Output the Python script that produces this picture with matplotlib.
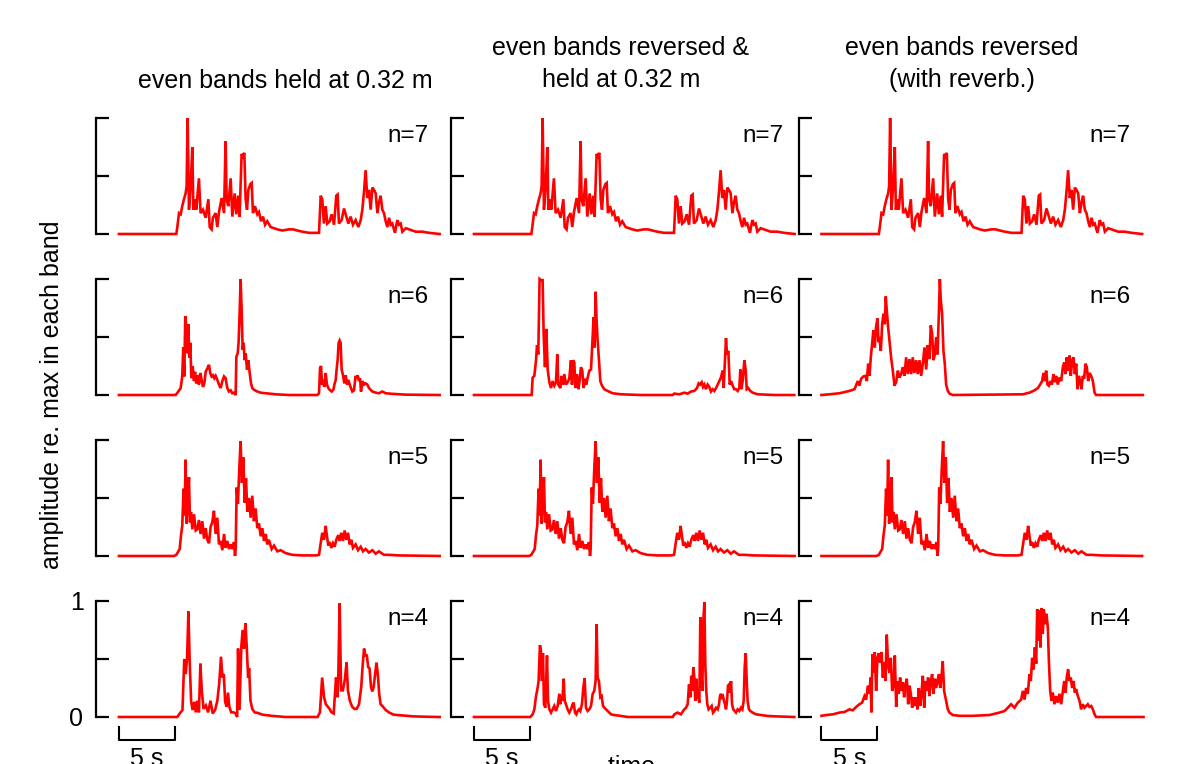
import numpy as np
import matplotlib.pyplot as plt

plt.rcParams['font.family'] = ['Liberation Sans', 'DejaVu Sans']

# traces: (time in s, amplitude re. max)
# odd bands (n=7, n=5) are the same in all three conditions
band7 = [
    (0, 0), (5.12, 0), (5.21, .06), (5.36, .18), (5.51, .17), (5.65, .24), (5.80, .30), (5.95, .35),
    (6.04, .41), (6.13, 1.0), (6.25, .21), (6.40, .41), (6.55, .75), (6.64, .21), (6.79, .30), (6.90, .21),
    (7.14, .48), (7.29, .18), (7.50, .21), (7.74, .14), (7.98, .30), (8.10, .06), (8.27, .04), (8.39, .14),
    (8.63, .18), (8.78, .06), (8.93, .19), (9.17, .31), (9.38, .18), (9.52, .80), (9.61, .30), (9.76, .24),
    (9.97, .48), (10.12, .15), (10.33, .35), (10.48, .17), (10.65, .33), (10.77, .15), (10.95, .69),
    (11.07, .67), (11.19, .70), (11.31, .30), (11.43, .21), (11.55, .38), (11.73, .43), (11.85, .44),
    (11.96, .18), (12.14, .24), (12.35, .17), (12.50, .19), (12.68, .11), (12.86, .15), (13.04, .08),
    (13.24, .11), (13.54, .06), (13.84, .05), (14.14, .04), (14.58, .03), (15.18, .04), (15.54, .04),
    (15.92, .03), (16.37, .02), (16.96, .01), (17.86, .01), (18.01, .33), (18.15, .30), (18.30, .09),
    (18.45, .24), (18.60, .09), (18.81, .11), (18.99, .17), (19.20, .08), (19.40, .33), (19.52, .34),
    (19.64, .09), (19.88, .12), (20.09, .22), (20.24, .17), (20.48, .09), (20.68, .15), (20.89, .08),
    (21.13, .12), (21.37, .06), (21.58, .12), (21.73, .21), (21.88, .37), (22.02, .55), (22.17, .31),
    (22.32, .38), (22.47, .21), (22.62, .40), (22.77, .38), (22.92, .35), (23.07, .18), (23.21, .27),
    (23.36, .33), (23.51, .21), (23.66, .18), (23.81, .11), (23.96, .06), (24.11, .14), (24.26, .08),
    (24.40, .09), (24.64, .01), (24.85, .12), (25.00, .08), (25.15, .09), (25.30, .02), (25.60, .05),
    (25.89, .04), (26.49, .02), (27.08, .02), (27.68, .01), (28.63, 0)]

band5 = [
    (0, 0), (4.91, 0), (5.12, .01), (5.30, .04), (5.42, .06), (5.54, .18), (5.65, .26), (5.77, .58),
    (5.86, .35), (5.95, .83), (6.04, .28), (6.13, .45), (6.25, .68), (6.34, .29), (6.43, .38), (6.55, .23),
    (6.70, .36), (6.85, .22), (6.99, .23), (7.14, .31), (7.29, .19), (7.44, .30), (7.59, .15), (7.74, .24),
    (7.89, .14), (8.04, .11), (8.18, .25), (8.33, .29), (8.48, .39), (8.63, .19), (8.78, .33), (8.93, .10),
    (9.08, .13), (9.23, .05), (9.38, .19), (9.52, .07), (9.67, .13), (9.82, .06), (9.97, .10), (10.12, .06),
    (10.27, .12), (10.36, 0), (10.42, .06), (10.51, .59), (10.62, .45), (10.74, .75), (10.86, .99),
    (10.98, .63), (11.10, .85), (11.22, .46), (11.34, .67), (11.46, .38), (11.61, .50), (11.76, .33),
    (11.90, .52), (12.05, .30), (12.20, .41), (12.35, .24), (12.50, .28), (12.65, .17), (12.80, .24),
    (12.95, .13), (13.10, .19), (13.24, .10), (13.39, .14), (13.63, .06), (13.84, .09), (14.14, .04),
    (14.43, .05), (14.88, .025), (15.48, .01), (16.37, .005), (17.56, .005), (17.86, .01), (18.01, .11),
    (18.15, .20), (18.30, .14), (18.45, .26), (18.57, .17), (18.69, .09), (18.81, .12), (18.96, .07),
    (19.11, .11), (19.26, .08), (19.40, .14), (19.58, .18), (19.70, .13), (19.85, .20), (20.00, .13),
    (20.15, .22), (20.30, .14), (20.45, .20), (20.60, .10), (20.74, .14), (20.89, .07), (21.13, .10),
    (21.34, .05), (21.58, .08), (21.79, .04), (22.02, .06), (22.32, .03), (22.62, .05), (22.92, .02),
    (23.21, .04), (23.66, .01), (24.11, .01), (25.00, .005), (28.63, 0)]

band6_held = [
    (0, 0), (5.06, 0), (5.30, .03), (5.51, .06), (5.65, .16), (5.74, .41), (5.83, .16), (5.92, .68),
    (6.01, .59), (6.10, .36), (6.19, .61), (6.28, .32), (6.37, .45), (6.46, .145), (6.58, .25), (6.70, .12),
    (6.79, .20), (6.90, .10), (7.02, .17), (7.14, .09), (7.26, .19), (7.38, .13), (7.50, .07), (7.62, .10),
    (7.74, .20), (7.89, .23), (8.04, .26), (8.15, .19), (8.27, .16), (8.39, .17), (8.51, .145), (8.63, .165),
    (8.78, .13), (8.93, .09), (9.08, .06), (9.23, .12), (9.38, .16), (9.52, .145), (9.67, .06), (9.82, .03),
    (9.97, .04), (10.12, .015), (10.27, .02), (10.42, 0), (10.48, .33), (10.60, .36), (10.68, .45),
    (10.77, .70), (10.86, 1.0), (10.95, .74), (11.04, .39), (11.13, .45), (11.22, .30), (11.31, .36),
    (11.43, .22), (11.55, .30), (11.67, .19), (11.79, .10), (11.90, .06), (12.05, .045), (12.35, .03),
    (12.65, .02), (13.10, .015), (13.99, .006), (15.18, 0), (17.71, 0), (17.86, .015), (17.95, .23),
    (18.04, .25), (18.13, .09), (18.21, .13), (18.33, .07), (18.45, .19), (18.57, .09), (18.69, .06),
    (18.81, .045), (18.99, .03), (19.14, .045), (19.26, .10), (19.35, .13), (19.43, .22), (19.52, .30),
    (19.61, .45), (19.70, .47), (19.79, .45), (19.88, .22), (20.00, .17), (20.12, .10), (20.24, .17),
    (20.36, .09), (20.48, .13), (20.60, .09), (20.71, .06), (20.83, .03), (20.98, .04), (21.13, .165),
    (21.22, .145), (21.31, .17), (21.43, .12), (21.52, .145), (21.61, .03), (21.73, .12), (21.88, .09),
    (22.02, .10), (22.17, .09), (22.32, .06), (22.47, .045), (22.62, .03), (22.92, .02), (23.21, .015),
    (23.51, .03), (23.81, .015), (24.40, .01), (25.60, .003), (28.63, 0)]

band6_rev_held = [
    (0, 0), (5.15, 0), (5.24, .15), (5.39, .165), (5.54, .30), (5.63, .43), (5.74, .35), (5.86, 1.0),
    (5.98, .99), (6.13, .99), (6.22, .53), (6.34, .24), (6.46, .57), (6.58, .22), (6.73, .11), (6.88, .06),
    (7.02, .12), (7.17, .08), (7.32, .11), (7.44, .35), (7.53, .09), (7.71, .06), (7.83, .165), (7.95, .09),
    (8.07, .18), (8.21, .09), (8.36, .11), (8.51, .14), (8.66, .30), (8.75, .09), (8.84, .30), (8.96, .28),
    (9.05, .06), (9.20, .18), (9.32, .05), (9.43, .12), (9.55, .24), (9.67, .21), (9.79, .06), (9.91, .14),
    (10.03, .09), (10.15, .15), (10.30, .21), (10.45, .22), (10.60, .51), (10.68, .67), (10.77, .41),
    (10.86, .89), (10.95, .64), (11.04, .47), (11.16, .30), (11.28, .12), (11.43, .08), (11.64, .05),
    (11.93, .035), (12.38, .015), (13.13, .006), (14.91, 0), (17.74, 0), (17.89, .012), (18.33, .006),
    (18.78, .02), (19.08, .012), (19.38, .03), (19.67, .035), (19.91, .06), (20.06, .10), (20.18, .09),
    (20.33, .11), (20.45, .07), (20.57, .09), (20.71, .05), (20.86, .09), (21.01, .07), (21.16, .03),
    (21.31, .05), (21.46, .035), (21.61, .06), (21.76, .09), (21.90, .12), (22.05, .15), (22.20, .21),
    (22.29, .06), (22.41, .30), (22.50, .49), (22.59, .35), (22.71, .38), (22.83, .09), (22.95, .12),
    (23.10, .08), (23.24, .05), (23.39, .05), (23.54, .035), (23.69, .06), (23.78, .22), (23.87, .05),
    (23.99, .12), (24.14, .30), (24.26, .21), (24.35, .05), (24.49, .06), (24.67, .035), (24.88, .02),
    (25.33, .006), (26.82, 0), (28.6, 0)]

band6_rev_reverb = [
    (0, 0), (0.71, .006), (1.61, .015), (2.50, .035), (2.95, .05), (3.24, .12), (3.39, .08), (3.54, .14),
    (3.75, .16), (3.93, .165), (4.05, .12), (4.17, .27), (4.29, .165), (4.40, .32), (4.52, .44), (4.64, .56),
    (4.76, .41), (4.88, .59), (5.00, .66), (5.09, .455), (5.18, .50), (5.30, .38), (5.42, .61), (5.54, .70),
    (5.65, .61), (5.74, .85), (5.83, .73), (5.95, .585), (6.07, .47), (6.22, .32), (6.37, .21), (6.52, .08),
    (6.67, .11), (6.82, .21), (6.96, .15), (7.11, .18), (7.26, .24), (7.41, .165), (7.56, .325), (7.71, .18),
    (7.86, .31), (8.01, .18), (8.15, .325), (8.30, .19), (8.45, .30), (8.60, .18), (8.75, .30), (8.90, .165),
    (9.05, .27), (9.20, .41), (9.35, .22), (9.49, .43), (9.64, .31), (9.76, .60), (9.88, .53), (10.00, .30),
    (10.12, .35), (10.24, .50), (10.36, .35), (10.48, .70), (10.57, 1.0), (10.65, .82), (10.77, .70),
    (10.89, .38), (11.01, .27), (11.13, .09), (11.28, .035), (11.43, .012), (11.73, 0), (17.98, .006),
    (18.57, .02), (19.02, .04), (19.32, .06), (19.52, .09), (19.70, .12), (19.82, .19), (19.94, .12),
    (20.06, .21), (20.18, .09), (20.30, .08), (20.45, .12), (20.57, .09), (20.71, .18), (20.83, .11),
    (20.95, .165), (21.10, .09), (21.25, .15), (21.40, .12), (21.55, .24), (21.67, .28), (21.79, .18),
    (21.90, .325), (22.02, .21), (22.14, .34), (22.26, .165), (22.38, .30), (22.50, .325), (22.62, .18),
    (22.74, .27), (22.86, .05), (22.98, .165), (23.10, .12), (23.21, .05), (23.33, .165), (23.45, .14),
    (23.57, .27), (23.69, .24), (23.81, .12), (23.93, .19), (24.08, .165), (24.23, .12), (24.38, .02),
    (24.52, 0), (28.69, 0)]

band4_held = [
    (0, 0), (5.21, 0), (5.42, .03), (5.67, .06), (5.83, .50), (5.95, .37), (6.08, .50), (6.20, .91),
    (6.32, .46), (6.44, .14), (6.57, .06), (6.73, .13), (6.86, .04), (6.98, .14), (7.14, .04), (7.27, .46),
    (7.39, .23), (7.55, .07), (7.76, .10), (7.96, .04), (8.17, .14), (8.37, .03), (8.58, .06), (8.78, .14),
    (8.95, .29), (9.11, .52), (9.24, .34), (9.36, .37), (9.48, .13), (9.61, .09), (9.73, .21), (9.85, .09),
    (10.02, .04), (10.22, .04), (10.43, .03), (10.55, 0), (10.63, .59), (10.76, .06), (10.92, .60),
    (11.04, .75), (11.17, .59), (11.29, .81), (11.41, .60), (11.53, .34), (11.62, .42), (11.74, .14),
    (11.90, .07), (12.11, .04), (12.40, .035), (12.81, .02), (13.63, .01), (14.86, 0), (17.73, 0),
    (17.94, .04), (18.14, .34), (18.31, .17), (18.47, .11), (18.64, .09), (18.80, .07), (18.97, .04),
    (19.17, .03), (19.38, .34), (19.50, .17), (19.58, .34), (19.70, .98), (19.83, .23), (19.99, .23),
    (20.16, .32), (20.32, .47), (20.44, .23), (20.61, .14), (20.81, .09), (21.02, .07), (21.22, .07),
    (21.43, .11), (21.63, .26), (21.76, .45), (21.88, .59), (22.00, .53), (22.13, .53), (22.25, .43),
    (22.37, .42), (22.50, .26), (22.62, .22), (22.74, .26), (22.87, .37), (22.99, .47), (23.11, .37),
    (23.23, .20), (23.36, .11), (23.56, .09), (23.81, .06), (24.10, .04), (24.51, .02), (25.12, .015),
    (26.35, .005), (28.4, 0), (28.63, 0)]

band4_rev_held = [
    (0, 0), (5.03, 0), (5.24, .023), (5.39, .066), (5.54, .18), (5.68, .25), (5.77, .31), (5.89, .62),
    (5.98, .57), (6.07, .31), (6.16, .55), (6.25, .11), (6.37, .08), (6.52, .53), (6.61, .14), (6.73, .066),
    (6.88, .038), (7.02, .066), (7.17, .095), (7.32, .052), (7.47, .095), (7.62, .20), (7.71, .11),
    (7.80, .18), (7.89, .14), (8.01, .33), (8.10, .14), (8.21, .11), (8.36, .066), (8.51, .038), (8.66, .066),
    (8.81, .11), (8.90, .124), (9.02, .038), (9.14, .023), (9.26, .052), (9.38, .066), (9.49, .052),
    (9.64, .11), (9.76, .25), (9.88, .335), (10.00, .08), (10.15, .052), (10.30, .066), (10.45, .095),
    (10.60, .20), (10.74, .225), (10.86, .31), (10.95, .80), (11.04, .34), (11.16, .31), (11.28, .17),
    (11.40, .18), (11.52, .095), (11.64, .08), (11.79, .066), (11.93, .052), (12.08, .038), (12.23, .023),
    (12.53, .017), (13.13, .009), (13.72, 0), (17.74, 0), (17.89, .023), (18.18, .038), (18.48, .023),
    (18.63, .046), (18.78, .066), (18.93, .08), (19.08, .11), (19.20, .28), (19.32, .17), (19.40, .355),
    (19.49, .225), (19.58, .43), (19.67, .34), (19.76, .14), (19.85, .33), (19.94, .17), (20.03, .17),
    (20.12, .124), (20.21, .86), (20.30, .37), (20.39, .225), (20.48, .83), (20.57, .99), (20.65, .46),
    (20.74, .225), (20.83, .11), (20.95, .066), (21.10, .08), (21.22, .095), (21.34, .038), (21.46, .052),
    (21.61, .08), (21.76, .066), (21.88, .11), (21.96, .18), (22.05, .20), (22.14, .17), (22.23, .18),
    (22.32, .14), (22.41, .11), (22.50, .066), (22.59, .14), (22.68, .27), (22.77, .28), (22.86, .21),
    (22.95, .31), (23.04, .11), (23.15, .066), (23.27, .052), (23.39, .038), (23.54, .066), (23.69, .052),
    (23.84, .08), (23.96, .066), (24.08, .14), (24.17, .43), (24.26, .55), (24.35, .31), (24.43, .14),
    (24.55, .066), (24.67, .052), (24.88, .038), (25.18, .023), (25.63, .017), (26.22, .009),
    (26.82, .006), (28.6, 0)]

band4_rev_reverb = [
    (0, .01), (0.42, .017), (1.01, .023), (1.61, .038), (2.05, .043), (2.50, .066), (2.80, .058),
    (3.10, .087), (3.39, .11), (3.63, .124), (3.84, .18), (3.99, .15), (4.14, .27), (4.29, .20), (4.38, .34),
    (4.46, .04), (4.55, .54), (4.64, .38), (4.76, .56), (4.88, .225), (5.00, .51), (5.12, .55), (5.24, .47),
    (5.36, .56), (5.48, .34), (5.60, .47), (5.71, .31), (5.83, .71), (5.95, .44), (6.07, .38), (6.19, .51),
    (6.31, .225), (6.43, .27), (6.55, .53), (6.67, .087), (6.79, .31), (6.90, .20), (7.02, .34), (7.14, .225),
    (7.26, .30), (7.38, .17), (7.50, .28), (7.62, .33), (7.74, .11), (7.86, .27), (7.98, .20), (8.10, .08),
    (8.21, .17), (8.33, .095), (8.45, .17), (8.57, .066), (8.69, .25), (8.81, .095), (8.93, .20),
    (9.05, .355), (9.17, .08), (9.29, .31), (9.40, .225), (9.52, .34), (9.64, .18), (9.76, .31), (9.88, .37),
    (10.00, .20), (10.12, .33), (10.24, .25), (10.36, .31), (10.48, .37), (10.60, .25), (10.71, .34),
    (10.83, .48), (10.95, .225), (11.13, .14), (11.28, .066), (11.43, .038), (11.73, .017), (12.32, .01),
    (13.51, .01), (15.00, .017), (15.89, .038), (16.34, .052), (16.64, .08), (16.93, .11), (17.23, .08),
    (17.53, .124), (17.83, .15), (17.98, .225), (18.13, .15), (18.27, .25), (18.42, .20), (18.57, .37),
    (18.69, .31), (18.81, .51), (18.93, .41), (19.05, .60), (19.17, .46), (19.26, .93), (19.35, .66),
    (19.46, .92), (19.55, .60), (19.64, .94), (19.76, .72), (19.85, .93), (19.97, .80), (20.09, .89),
    (20.21, .77), (20.30, .49), (20.42, .225), (20.54, .14), (20.65, .21), (20.80, .11), (20.95, .18),
    (21.10, .124), (21.25, .20), (21.40, .11), (21.55, .225), (21.67, .31), (21.79, .21), (21.90, .34),
    (22.02, .41), (22.14, .31), (22.26, .34), (22.38, .25), (22.50, .31), (22.62, .21), (22.74, .24),
    (22.89, .18), (23.04, .14), (23.18, .066), (23.33, .11), (23.48, .08), (23.63, .095), (23.78, .11),
    (23.93, .087), (24.08, .095), (24.23, .066), (24.38, .023), (24.52, 0), (28.75, 0)]

band_numbers = [7, 6, 5, 4]
traces = [
    [band7, band7, band7],
    [band6_held, band6_rev_held, band6_rev_reverb],
    [band5, band5, band5],
    [band4_held, band4_rev_held, band4_rev_reverb],
]
titles = [
    ['even bands held at 0.32 m'],
    ['even bands reversed &', 'held at 0.32 m'],
    ['even bands reversed', '(with reverb.)'],
]
scale_bar_s = 5

W, H = 1178, 764
fig = plt.figure(figsize=(W / 100, H / 100), dpi=100)

# layout in pixels of the reference
col_left = [96, 451, 798.5]
row_bottom = [234, 395, 556, 717]
ax_w, ax_h = 347.8, 116
t_min, t_max = -2.05, 29.0

for r in range(4):
    for c in range(3):
        ax = fig.add_axes([col_left[c] / W, 1 - row_bottom[r] / H, ax_w / W, ax_h / H])
        t, v = np.array(traces[r][c]).T
        ax.plot(t, v, color='#ff0000', lw=1.9, clip_on=False, solid_joinstyle='miter')
        ax.set_xlim(t_min, t_max)
        ax.set_ylim(0, 1)
        ax.patch.set_visible(False)
        for s in ['top', 'right', 'bottom']:
            ax.spines[s].set_visible(False)
        ax.spines['left'].set_linewidth(1.6)
        ax.spines['left'].set_capstyle('projecting')
        ax.set_xticks([])
        ax.set_yticks([0, 0.5, 1])
        ax.tick_params(axis='y', direction='in', length=9.5, width=1.6, pad=9, labelsize=18)
        if r == 3 and c == 0:
            ax.set_yticklabels(['0', '', '1'])
        else:
            ax.set_yticklabels([])
        ax.text(27.6, 0.79, f'n={band_numbers[r]}', ha='right', va='baseline', fontsize=17.5)

        if r == 3:
            # 5 s scale bar under each column
            ax.plot([0, 0, scale_bar_s, scale_bar_s], [-0.086, -0.198, -0.198, -0.086],
                    color='black', lw=1.5, clip_on=False)
            ax.text(scale_bar_s / 2, -0.425, f'{scale_bar_s} s', ha='center', va='baseline',
                    fontsize=18)

title_x = [285, 621, 962]
for c in range(3):
    lines = titles[c]
    baselines = [88] if len(lines) == 1 else [55, 87]
    for line, yb in zip(lines, baselines):
        fig.text(title_x[c] / W, 1 - yb / H, line, ha='center', va='baseline', fontsize=18)

fig.text(52 / W, 1 - 395 / H, 'amplitude re. max in each band', rotation=90,
         ha='center', va='center', fontsize=18)
fig.text(608 / W, 1 - 774 / H, 'time \u2192', ha='left', va='baseline', fontsize=18)

fig.savefig('out.png', dpi=100)
